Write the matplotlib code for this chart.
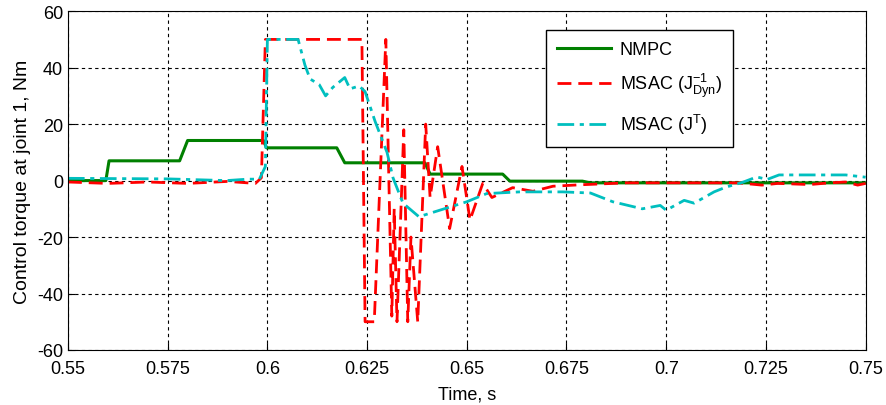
import matplotlib
matplotlib.use('Agg')
import matplotlib.pyplot as plt

plt.rcParams['font.family'] = ['Liberation Sans', 'DejaVu Sans']
plt.rcParams['mathtext.fontset'] = 'custom'
plt.rcParams['mathtext.rm'] = 'Liberation Sans'
plt.rcParams['axes.unicode_minus'] = False

narrow = ['Liberation Sans Narrow', 'Liberation Sans', 'DejaVu Sans']

# NMPC (piecewise constant with short ramps)
t_nmpc = [0.55, 0.5595, 0.5603, 0.578, 0.580, 0.599, 0.5998, 0.6174, 0.6194,
          0.6395, 0.6408, 0.659, 0.6608, 0.679, 0.681, 0.75]
u_nmpc = [0, 0, 7, 7, 14.2, 14.2, 11.6, 11.6, 6.3, 6.3, 2.3, 2.3, -0.2, -0.2, -0.8, -0.8]

# MSAC (J_Dyn^-1)
t_dyn = [0.55, 0.56, 0.57, 0.58, 0.59, 0.597, 0.5985, 0.5995, 0.6237, 0.6245,
         0.6268, 0.6297, 0.6312, 0.6318, 0.6325, 0.6342, 0.6352, 0.6360, 0.6377,
         0.6397, 0.6408, 0.6427, 0.6457, 0.6488, 0.6508, 0.654, 0.6563, 0.6615,
         0.6666, 0.6716, 0.6783, 0.69, 0.70, 0.71, 0.718, 0.724, 0.728, 0.736,
         0.741, 0.745, 0.748, 0.75]
u_dyn = [-0.5, -1, -0.5, -1, -0.3, -1, 1, 50, 50, -50,
         -50, 50, -48, -10, -50, 18, -50, -20, -50,
         20, -6, 12, -17, 5, -14, -1, -6, -2.5,
         -3.8, -2, -1.5, -0.8, -0.8, -0.8, -0.8, -1.6, -1, -1.4,
         -0.8, -0.5, -1.6, -1]

# MSAC (J^T)
t_jt = [0.55, 0.575, 0.5898, 0.595, 0.598, 0.5995, 0.6, 0.6077, 0.6094, 0.6107,
        0.613, 0.6146, 0.6164, 0.6194, 0.6207, 0.623, 0.6245, 0.627, 0.630,
        0.6315, 0.634, 0.638, 0.65, 0.655, 0.6633, 0.674, 0.681, 0.6866,
        0.694, 0.6985, 0.70, 0.7045, 0.707, 0.712, 0.715, 0.719, 0.7227,
        0.7253, 0.7283, 0.745, 0.75]
u_jt = [0.8, 0.6, 0, 0.5, 0.5, 5, 50, 50, 41, 36,
        34, 30, 33, 36.5, 32.5, 33.5, 31.5, 21, 10,
        1, -8, -12.8, -7.5, -4.6, -4, -4, -4.4, -7.5,
        -10, -8.8, -10.5, -7, -8, -4, -2.3, -0.7, 1.3,
        0.4, 2, 2, 1.2]

xticks = [0.55, 0.575, 0.6, 0.625, 0.65, 0.675, 0.7, 0.725, 0.75]
xticklabels = ['0.55', '0.575', '0.6', '0.625', '0.65', '0.675', '0.7', '0.725', '0.75']
yticks = [-60, -40, -20, 0, 20, 40, 60]

fig = plt.figure(figsize=(8.86, 4.06), dpi=100)
ax = fig.add_axes([0.0767, 0.1355, 0.9003, 0.8345])

ax.plot(t_nmpc, u_nmpc, color='#008000', lw=2.2, label='NMPC')
ax.plot(t_dyn, u_dyn, color='#ff0000', lw=2.0, ls=(0, (5, 2.5)),
        label='MSAC ($\\mathregular{J_{Dyn}^{-1}}$)')
ax.plot(t_jt, u_jt, color='#00bfbf', lw=2.0, ls=(0, (6, 2, 1.5, 2)),
        label='MSAC ($\\mathregular{J^{T}}$)')

ax.set_xlim(0.55, 0.75)
ax.set_ylim(-60, 60)
ax.set_xticks(xticks)
ax.set_xticklabels(xticklabels, family=narrow, fontsize=13)
ax.set_yticks(yticks)
ax.set_yticklabels([str(v) for v in yticks], family=narrow, fontsize=13)
ax.tick_params(direction='in', length=5)
ax.tick_params(axis='x', pad=7)
ax.grid(True, color='black', ls=(0, (3, 3)), lw=0.8)
ax.set_xlabel('Time, s', fontsize=13, family=narrow, labelpad=6)
ax.set_ylabel('Control torque at joint 1, Nm', fontsize=14, labelpad=4)

leg = ax.legend(loc='upper left', bbox_to_anchor=(0.599, 0.943), fontsize=13,
                handlelength=3.0, handletextpad=0.5, labelspacing=0.7,
                borderpad=0.6, borderaxespad=0,
                fancybox=False, framealpha=1, edgecolor='black')
leg.get_frame().set_linewidth(1.0)

fig.savefig('out.png', dpi=100)
